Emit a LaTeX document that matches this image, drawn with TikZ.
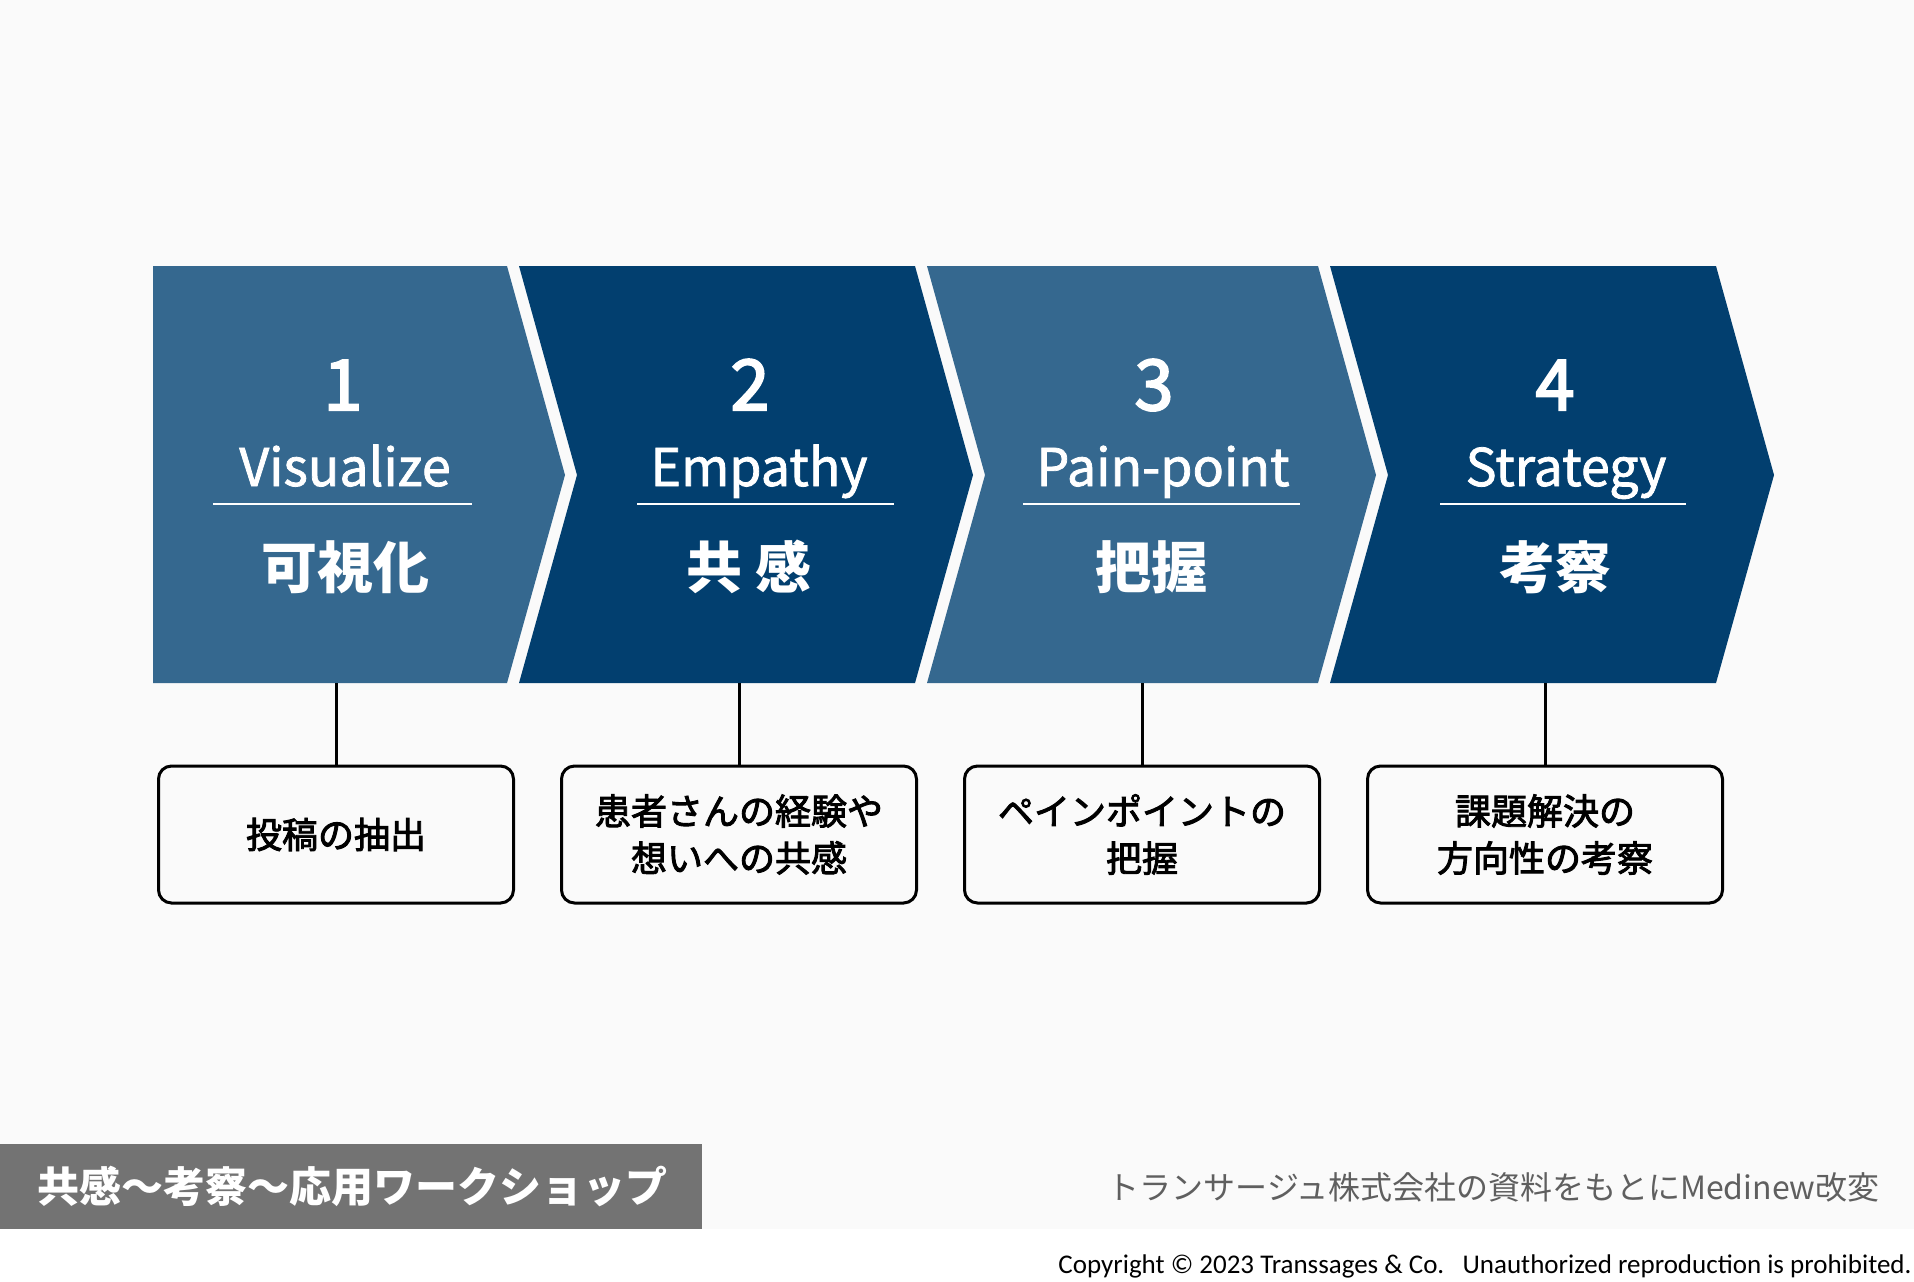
\documentclass[tikz,border=0pt]{standalone}
\usepackage{fontspec}
\setmainfont{Noto Sans CJK JP}
\newfontfamily\numfont{Noto Sans CJK JP}[FakeBold=3]
\newfontfamily\medfont{Noto Sans CJK JP}[FakeBold=1.5]
\newfontfamily\taskfont{Noto Sans CJK JP}[FakeBold=2.5]
\newfontfamily\copyfont{Carlito}
\definecolor{paleblue}{HTML}{35688F}
\definecolor{deepblue}{HTML}{023F6F}
\definecolor{paper}{HTML}{FAFAFA}
\definecolor{band}{HTML}{737373}
\definecolor{source}{HTML}{5F5F5F}

\begin{document}
\begin{tikzpicture}[x=0.5pt,y=-0.5pt,
    num/.style={text=white,font=\numfont\fontsize{35}{40}\selectfont,anchor=base},
    eng/.style={text=white,font=\medfont\fontsize{26}{30}\selectfont,anchor=base},
    jpn/.style={text=white,font=\fontsize{28}{32}\selectfont\bfseries},
    rule/.style={white,line width=1pt},
    task/.style={draw,line width=1.5pt,rounded corners=6.5pt,
      minimum width=177.5pt,minimum height=68.5pt,align=center,
      font=\taskfont\fontsize{18}{23.5}\selectfont},
    link/.style={line width=1.5pt} ]
  \useasboundingbox (0,0) rectangle (1914,1281);
  \fill[white] (0,0) rectangle (1914,1281);
  \fill[paper] (0,0) rectangle (1914,1229);
  \fill[paleblue] (153,266) -- (507,266) -- (565,475) -- (507,683) -- (153,683) -- cycle;
  \fill[deepblue] (519,266) -- (915,266) -- (973,475) -- (915,683) -- (519,683) -- (577,475) -- cycle;
  \fill[paleblue] (927,266) -- (1318,266) -- (1376,475) -- (1318,683) -- (927,683) -- (985,475) -- cycle;
  \fill[deepblue] (1330,266) -- (1716,266) -- (1774,475) -- (1716,683) -- (1330,683) -- (1388,475) -- cycle;
  \node[num] (num1) at (343,410) {1};
  \node[num] (num2) at (750,410) {2};
  \node[num] (num3) at (1154,410) {3};
  \node[num] (num4) at (1555,410) {4};
  \node[eng] (eng1) at (345,486) {Visualize};
  \node[eng] (eng2) at (759,486) {Empathy};
  \node[eng] (eng3) at (1163,486) {Pain-point};
  \node[eng] (eng4) at (1566,486) {Strategy};
  \draw[rule] (213,504) -- (472,504);
  \draw[rule] (637,504) -- (894,504);
  \draw[rule] (1023,504) -- (1300,504);
  \draw[rule] (1440,504) -- (1686,504);
  \node[jpn] (jp1) at (345,567) {可視化};
  \node[jpn] (jp2) at (749,567) {共 感};
  \node[jpn] (jp3) at (1151,567) {把握};
  \node[jpn] (jp4) at (1555,567) {考察};
  \node[task] (box1) at (336,834.5) {投稿の抽出};
  \node[task] (box2) at (739,834.5) {患者さんの経験や\\想いへの共感};
  \node[task] (box3) at (1142,834.5) {ペインポイントの\\把握};
  \node[task] (box4) at (1545,834.5) {課題解決の\\方向性の考察};
  \coordinate (c1) at (box1.north |- 0,683);
  \coordinate (c2) at (box2.north |- 0,683);
  \coordinate (c3) at (box3.north |- 0,683);
  \coordinate (c4) at (box4.north |- 0,683);
  \draw[link] (c1) -- (box1);
  \draw[link] (c2) -- (box2);
  \draw[link] (c3) -- (box3);
  \draw[link] (c4) -- (box4);
  \fill[band] (0,1144) rectangle (702,1229);
  \node[text=white,font=\fontsize{21}{24}\selectfont\bfseries] (title) at (352,1186) {共感〜考察〜応用ワークショップ};
  \node[text=source,font=\fontsize{16}{20}\selectfont,anchor=east,inner sep=0pt] (credit) at (1880,1187) {トランサージュ株式会社の資料をもとにMedinew改変};
  \node[font=\copyfont\fontsize{13.5}{15}\selectfont,anchor=base east,inner sep=0pt] (copy) at (1912,1273) {Copyright © 2023 Transsages \& Co.\ \ \ Unauthorized reproduction is prohibited.};
\end{tikzpicture}
\end{document}
